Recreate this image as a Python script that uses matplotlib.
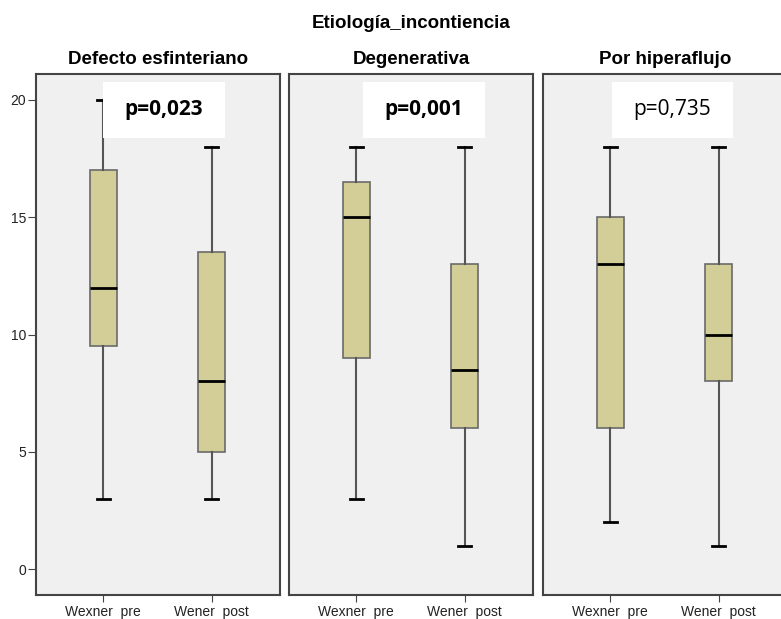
import numpy as np
import matplotlib.pyplot as plt
from matplotlib.patches import Rectangle

# values
paneles = ["Defecto esfinteriano", "Degenerativa", "Por hiperaflujo"]
grupos = ["Wexner  pre", "Wener  post"]
p_valores = ["p=0,023", "p=0,001", "p=0,735"]
p_negrita = [True, True, False]

# per panel, per group: (min, q1, median, q3, max)
wexner_pre = [(3, 9.5, 12, 17, 20), (3, 9, 15, 16.5, 18), (2, 6, 13, 15, 18)]
wener_post = [(3, 5, 8, 13.5, 18), (1, 6, 8.5, 13, 18), (1, 8, 10, 13, 18)]

caja_color = "#d3cd98"
fondo = "#f0f0f0"
borde = "#444444"

plt.rcParams['font.family'] = ['Liberation Sans', 'DejaVu Sans']
fig = plt.figure(figsize=(7.81, 6.19), dpi=100)

W, H = 781, 619
lefts = [36, 289, 543]
width = 244
top, bottom = 74, 595
# white label boxes (axes fraction, x0, x1)
cuadro_x = [(0.275, 0.775), (0.303, 0.803), (0.283, 0.779)]

for i, nombre in enumerate(paneles):
    ax = fig.add_axes([lefts[i] / W, 1 - bottom / H, width / W, (bottom - top) / H])
    ax.set_facecolor(fondo)
    stats = []
    for serie, lab in zip([wexner_pre[i], wener_post[i]], grupos):
        lo, q1, med, q3, hi = serie
        stats.append(dict(whislo=lo, q1=q1, med=med, q3=q3, whishi=hi, fliers=[], label=lab))
    ax.bxp(stats, positions=[0, 1], widths=0.25, patch_artist=True,
           boxprops=dict(facecolor=caja_color, edgecolor="#6a6a6a", linewidth=1.2),
           medianprops=dict(color="black", linewidth=2),
           whiskerprops=dict(color="#555555", linewidth=1.5),
           capprops=dict(color="black", linewidth=2),
           capwidths=0.12)
    ax.set_xlim(-0.618, 1.63)
    ax.set_ylim(-1.1, 21.1)
    ax.set_xticks([0, 1])
    ax.set_xticklabels(grupos, fontsize=10, color="#222222")
    ax.set_yticks([0, 5, 10, 15, 20])
    if i == 0:
        ax.tick_params(axis="y", labelsize=10, length=6, pad=1, color=borde, labelcolor="#222222")
    else:
        ax.tick_params(axis="y", left=False, labelleft=False)
    ax.tick_params(axis="x", length=5, color=borde, pad=2)
    for s in ax.spines.values():
        s.set_color(borde)
        s.set_linewidth(1.5)
    ax.set_title(nombre, fontsize=13.5, fontweight="bold", pad=7.5)

    # p-value label in white box
    x0, x1 = cuadro_x[i]
    y0, y1 = 1 - (138 - top) / (bottom - top), 1 - (82 - top) / (bottom - top)
    ax.add_patch(Rectangle((x0, y0), x1 - x0, y1 - y0, transform=ax.transAxes,
                           facecolor="white", edgecolor="none", zorder=4))
    ax.text((x0 + x1) / 2, (y0 + y1) / 2, p_valores[i], transform=ax.transAxes,
            ha="center", va="center", fontsize=15,
            fontweight="bold" if p_negrita[i] else "normal",
            family=["Open Sans", "DejaVu Sans"], zorder=5)

fig.text(411 / W, 1 - 23 / H, "Etiología_incontiencia", ha="center", va="center",
         fontsize=13.5, fontweight="bold")

fig.savefig("out.png", dpi=100)
